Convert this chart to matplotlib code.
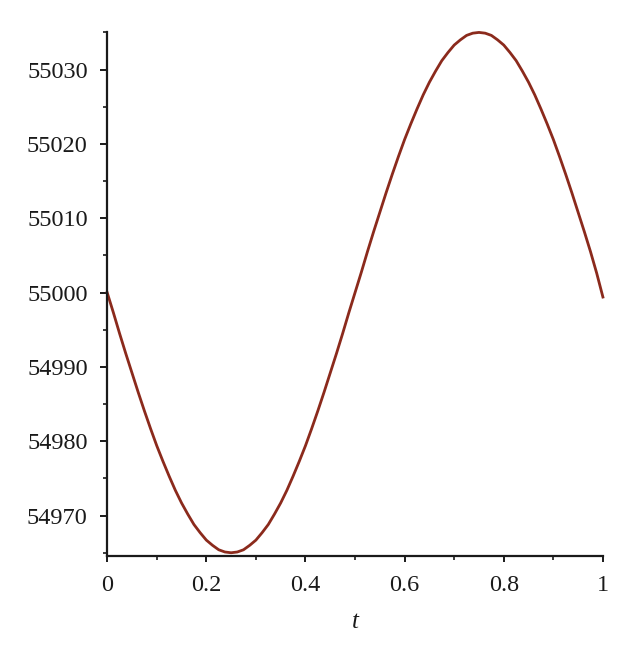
import matplotlib
matplotlib.use('Agg')
import matplotlib.pyplot as plt
import numpy as np
from matplotlib.ticker import MultipleLocator

# sample grid in t and the values
t = np.linspace(0, 1, 81)
value = [55000.0, 54997.3, 54994.5, 54991.8, 54989.2, 54986.6, 54984.1, 54981.7, 54979.4, 54977.3,
         54975.3, 54973.4, 54971.7, 54970.2, 54968.8, 54967.7, 54966.7, 54966.0, 54965.4, 54965.1,
         54965.0, 54965.1, 54965.4, 54966.0, 54966.7, 54967.7, 54968.8, 54970.2, 54971.7, 54973.4,
         54975.3, 54977.3, 54979.4, 54981.7, 54984.1, 54986.6, 54989.2, 54991.8, 54994.5, 54997.3,
         55000.0, 55002.7, 55005.5, 55008.2, 55010.8, 55013.4, 55015.9, 55018.3, 55020.6, 55022.7,
         55024.7, 55026.6, 55028.3, 55029.8, 55031.2, 55032.3, 55033.3, 55034.0, 55034.6, 55034.9,
         55035.0, 55034.9, 55034.6, 55034.0, 55033.3, 55032.3, 55031.2, 55029.8, 55028.3, 55026.6,
         55024.7, 55022.7, 55020.6, 55018.3, 55015.9, 55013.4, 55010.8, 55008.2, 55005.5, 55002.6,
         54999.4]

x_ticks = [0, 0.2, 0.4, 0.6, 0.8, 1]
x_ticklabels = ['0', '0.2', '0.4', '0.6', '0.8', '1']
y_ticks = [54970, 54980, 54990, 55000, 55010, 55020, 55030]

plt.rcParams['font.family'] = ['Liberation Serif', 'DejaVu Serif']

fig = plt.figure(figsize=(6.38, 6.6), dpi=100)
ax = fig.add_axes([0.168, 0.158, 0.777, 0.794])

ax.plot(t, value, color='#8b2a1c', linewidth=2.0, clip_on=False)

ax.set_xlim(0, 1)
ax.set_ylim(54964.6, 55035.1)

ax.set_xticks(x_ticks)
ax.set_xticklabels(x_ticklabels)
ax.set_yticks(y_ticks)
ax.xaxis.set_minor_locator(MultipleLocator(0.1))
ax.yaxis.set_minor_locator(MultipleLocator(5))

for side in ('top', 'right'):
    ax.spines[side].set_visible(False)
for side in ('left', 'bottom'):
    ax.spines[side].set_linewidth(1.6)
    ax.spines[side].set_color('#1a1a1a')

ax.tick_params(axis='y', which='major', direction='out', length=5, width=1.4,
               labelsize=17.5, pad=9, colors='#1a1a1a')
ax.tick_params(axis='y', which='minor', direction='out', length=3, width=1.2, colors='#1a1a1a')
ax.tick_params(axis='x', which='major', direction='out', length=4, width=1.4,
               labelsize=17.5, pad=10, colors='#1a1a1a')
ax.tick_params(axis='x', which='minor', direction='out', length=3, width=1.2, colors='#1a1a1a')

ax.set_xlabel('t', fontsize=18, style='italic', labelpad=11, color='#1a1a1a')

fig.savefig('out.png', dpi=100)
plt.close()
